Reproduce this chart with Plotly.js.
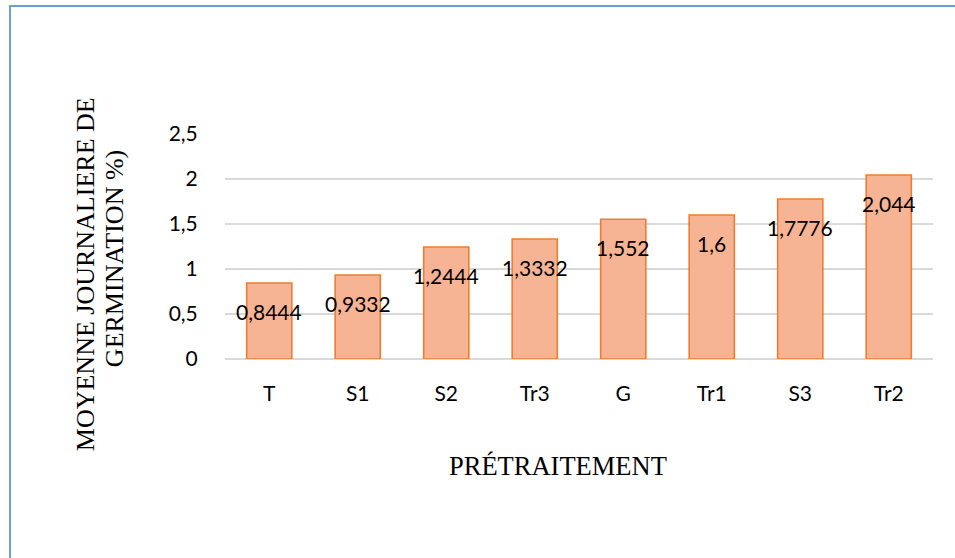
<!DOCTYPE html>
<html>
<head>
<meta charset="utf-8">
<script src="https://cdn.plot.ly/plotly-3.0.1.min.js"></script>
<style>
  html, body { margin: 0; padding: 0; background: #ffffff; }
  #chart { position: absolute; left: 0; top: 0; width: 955px; height: 558px; }
  #frame { position: absolute; left: 9px; top: 5px; width: 960px; height: 560px;
           border-left: 2px solid #6a9fd8; border-top: 2px solid #6a9fd8; pointer-events: none; }
</style>
</head>
<body>
<div id="chart"></div>
<div id="frame"></div>
<script>
const categories = ["T", "S1", "S2", "Tr3", "G", "Tr1", "S3", "Tr2"];
const values = [0.8444, 0.9332, 1.2444, 1.3332, 1.552, 1.6, 1.7776, 2.044];
const valueLabels = ["0,8444", "0,9332", "1,2444", "1,3332", "1,552", "1,6", "1,7776", "2,044"];
const yTickVals = [0, 0.5, 1, 1.5, 2, 2.5];
const yTickText = ["0", "0,5", "1", "1,5", "2", "2,5"];
const xTitle = "PRÉTRAITEMENT";
const yTitleLine1 = "MOYENNE JOURNALIERE DE";
const yTitleLine2 = "GERMINATION %)";

const trace = {
  type: "bar",
  x: categories,
  y: values,
  marker: { color: "#f6b495", line: { color: "#ed7d31", width: 1.6 } },
  hoverinfo: "none"
};

const labelAnnotations = categories.map((c, i) => ({
  x: c, y: values[i], xref: "x", yref: "y",
  text: valueLabels[i], showarrow: false,
  xanchor: "center", yanchor: "middle", yshift: -28,
  font: { family: "Lato, 'Open Sans', sans-serif", size: 21, color: "#000000" }
}));

const titleFont = { family: "'Liberation Serif', 'Times New Roman', serif", size: 26, color: "#000000" };
const titleAnnotations = [
  { text: yTitleLine1, xref: "paper", yref: "paper", x: -0.196, y: 0.378, xanchor: "center", yanchor: "middle",
    textangle: -90, showarrow: false, font: titleFont },
  { text: yTitleLine2, xref: "paper", yref: "paper", x: -0.155, y: 0.445, xanchor: "center", yanchor: "middle",
    textangle: -90, showarrow: false, font: titleFont },
  { text: xTitle, xref: "paper", yref: "paper", x: 0.47, y: -0.475, xanchor: "center", yanchor: "middle",
    showarrow: false, font: { family: titleFont.family, size: 26.5, color: "#000000" } }
];

const layout = {
  width: 955, height: 558,
  margin: { l: 225, r: 22, t: 134, b: 199 },
  paper_bgcolor: "#ffffff", plot_bgcolor: "#ffffff",
  separators: ", ",
  showlegend: false,
  bargap: 0.49,
  xaxis: {
    type: "category",
    showgrid: false, zeroline: false, showline: false,
    ticks: "outside", ticklen: 16, tickcolor: "rgba(0,0,0,0)",
    tickfont: { family: "Lato, 'Open Sans', sans-serif", size: 21, color: "#000000" }
  },
  yaxis: {
    range: [0, 2.5],
    tickvals: yTickVals, ticktext: yTickText,
    showgrid: true, gridcolor: "#d9d9d9", gridwidth: 1.5,
    zeroline: true, zerolinecolor: "#d9d9d9", zerolinewidth: 1.5,
    showline: false,
    ticks: "outside", ticklen: 22, tickcolor: "rgba(0,0,0,0)",
    tickfont: { family: "Lato, 'Open Sans', sans-serif", size: 21, color: "#000000" }
  },
  annotations: labelAnnotations.concat(titleAnnotations)
};

Plotly.newPlot("chart", [trace], layout, { displayModeBar: false, staticPlot: true });
</script>
</body>
</html>
